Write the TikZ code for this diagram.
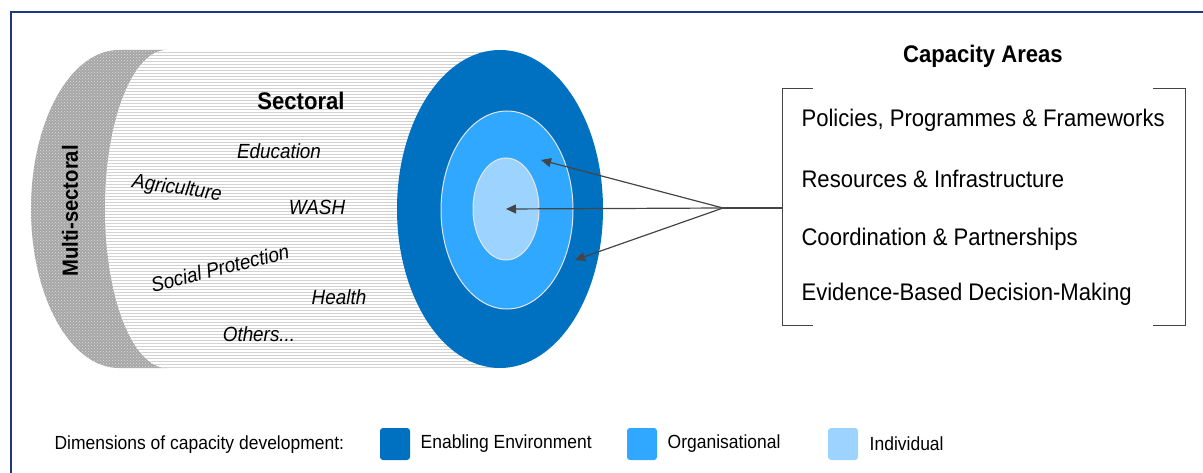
\documentclass[tikz,border=0pt]{standalone}
\usepackage{fontspec}
\setmainfont{Liberation Sans}[FakeStretch=0.92]
\usetikzlibrary{patterns,shapes.geometric,arrows.meta,positioning}
\definecolor{envblue}{HTML}{0070C0}
\definecolor{orgblue}{HTML}{30A8FF}
\definecolor{indblue}{HTML}{9DD4FF}
\definecolor{framenavy}{HTML}{1F3A7A}
\definecolor{arrowgray}{HTML}{454545}
\tikzset{
  sector/.style={inner sep=1pt,font=\fontsize{20.5}{24}\selectfont\itshape},
  heading/.style={font=\fontsize{24}{28}\selectfont\bfseries},
  area/.style={anchor=west,font=\fontsize{24}{28}\selectfont},
  legtext/.style={anchor=west,font=\fontsize{19}{22}\selectfont},
  legbox/.style={rounded corners=3pt,minimum width=30pt,minimum height=32pt,inner sep=0pt},
  ring/.style={ellipse,inner sep=0pt,draw=white!80!gray,line width=1pt},
  pointer/.style={draw=arrowgray,line width=1.2pt,-{Triangle[length=10pt,width=9pt]}},
  bracket/.style={draw=arrowgray,line width=1pt}
}
\begin{document}
\begin{tikzpicture}[x=1pt,y=-1pt]
\useasboundingbox (0,0) rectangle (1203,473);
\draw[framenavy,line width=2pt] (1203,12.5) -- (11,12.5) -- (11,473);

\fill[gray!70] (167,50) -- (119,50) arc[start angle=-90,end angle=-270,x radius=88,y radius=159] -- (167,368) -- cycle;
\fill[pattern=crosshatch dots,pattern color=gray!25] (167,50) -- (119,50) arc[start angle=-90,end angle=-270,x radius=88,y radius=159] -- (167,368) -- cycle;
\fill[white] (500,50) -- (167,50) arc[start angle=-90,end angle=-270,x radius=62,y radius=159] -- (500,368) -- cycle;
\fill[pattern=horizontal lines,pattern color=gray!35] (500,50) -- (167,50) arc[start angle=-90,end angle=-270,x radius=62,y radius=159] -- (500,368) -- cycle;

\node[ring,fill=envblue,draw=none,minimum width=206pt,minimum height=318pt] (env) at (500,209) {};
\node[ring,fill=orgblue,minimum width=132pt,minimum height=198pt] (org) at (507,210) {};
\node[ring,fill=indblue,minimum width=66pt,minimum height=102pt] (ind) at (506,209) {};

\node[heading,font=\fontsize{22}{24}\selectfont\bfseries,rotate=90] (multi) at (70,211) {Multi-sectoral};
\node[heading] (sectoral) at (301,101) {Sectoral};
\node[sector] (education) at (279,151) {Education};
\node[sector,rotate=-8] (agriculture) at (177,189) {Agriculture};
\node[sector] (wash) at (317,207) {WASH};
\node[sector,rotate=14] (social) at (220,268) {Social Protection};
\node[sector] (health) at (339,297) {Health};
\node[sector] (others) at (259,334) {Others...};

\node[heading] (capacity) at (983,56) {Capacity Areas};
\node[minimum width=402pt,minimum height=237pt,inner sep=0pt] (areas) at (984,207) {};
\draw[bracket] ([xshift=30pt]areas.north west) -- (areas.north west) -- (areas.south west) -- ++(30,0);
\draw[bracket] ([xshift=-32pt]areas.north east) -- (areas.north east) -- (areas.south east) -- ++(-32,0);
\node[area] (policies) at (798,120) {Policies, Programmes \& Frameworks};
\node[area] (resources) at (798,179) {Resources \& Infrastructure};
\node[area] (coordination) at (798,239) {Coordination \& Partnerships};
\node[area] (evidence) at (798,294) {Evidence-Based Decision-Making};

\coordinate (hub) at (723,208);
\coordinate (orgtip) at (541,160);
\coordinate (envtip) at (575,260);
\draw[bracket,line width=1.2pt] (areas.west |- hub) -- (hub);
\draw[pointer] (hub) -- (orgtip);
\draw[pointer] (hub) -- (ind.center);
\draw[pointer] (hub) -- (envtip);

\node[legtext] (dimensions) at (51,445) {Dimensions of capacity development:};
\node[legbox,fill=envblue] (legenv) at (395,444) {};
\node[legtext,right=7pt of legenv] (envlabel) {Enabling Environment};
\node[legbox,fill=orgblue] (legorg) at (642,444) {};
\node[legtext,right=7pt of legorg] (orglabel) {Organisational};
\node[legbox,fill=indblue] (legind) at (843,444) {};
\node[legtext,right=8pt of legind] (indlabel) {Individual};
\end{tikzpicture}
\end{document}
